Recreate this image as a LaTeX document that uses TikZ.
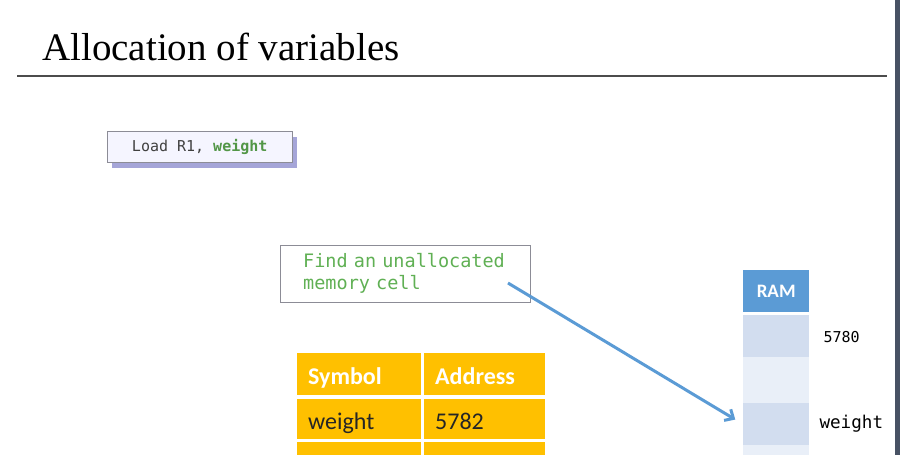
\documentclass[tikz,border=0pt]{standalone}
\usepackage{fontspec}
\setmainfont{Liberation Serif}
\newfontfamily\monofont{DejaVu Sans Mono}[WordSpace={1,0,0}]
\newfontfamily\calfont{Carlito}
\usetikzlibrary{arrows.meta, positioning, shadows}

\definecolor{tabgold}{RGB}{255,192,0}
\definecolor{ramblue}{RGB}{91,155,213}
\definecolor{celldark}{RGB}{210,221,239}
\definecolor{celllight}{RGB}{233,239,248}
\definecolor{codegreen}{RGB}{96,176,84}
\definecolor{boxgray}{RGB}{140,140,150}
\definecolor{barslate}{RGB}{72,82,100}

\begin{document}
\begin{tikzpicture}[x=1pt, y=-1pt,
    tabcell/.style={fill=tabgold, anchor=north west, minimum height=42pt, inner xsep=11pt,
        text height=21pt, text depth=0pt,
        align=left, font=\calfont\fontsize{24}{28}\selectfont, text=black!85},
    headcell/.style={tabcell, text=white, font=\calfont\bfseries\fontsize{24}{28}\selectfont},
    ramcell/.style={anchor=north west, minimum width=66pt, inner sep=0pt},
    memlabel/.style={anchor=west, font=\monofont\fontsize{15}{18}\selectfont}]
    \useasboundingbox (0,0) rectangle (900,455);
    \clip (0,0) rectangle (900,455);

    % title and rule
    \node[anchor=base west, inner sep=0pt, font=\fontsize{39}{44}\selectfont] (title) at (42,60) {Allocation of variables};
    \draw[black!70, line width=2pt] (17,76) -- (887,76);
    \fill[barslate] (895,0) rectangle (900,455);

    % instruction
    \node[draw=boxgray, fill=blue!4, anchor=north west, minimum width=185pt, minimum height=31pt,
        drop shadow={fill=blue!40!gray, opacity=0.5, shadow xshift=5pt, shadow yshift=-6pt},
        font=\monofont\fontsize{15}{18}\selectfont] (load) at (107,131)
        {\textcolor{black!75}{Load R1,} \textcolor{codegreen!85!black}{\bfseries weight}};

    \node[draw=boxgray, fill=white, anchor=north west, minimum width=250pt, minimum height=57pt,
        text width=204pt, inner xsep=23pt, align=left, text=codegreen,
        font=\monofont\fontsize{18.5}{22}\selectfont] (find) at (280,245)
        {Find an unallocated\\memory cell};

    % symbol table
    \node[headcell, text width=102pt] (symhead) at (297,353) {Symbol};
    \node[headcell, text width=99pt] (addrhead) at (424,353) {Address};
    \node[tabcell, text width=102pt, minimum height=40pt] (symw) at (297,399) {weight};
    \node[tabcell, text width=99pt, minimum height=40pt] (addrw) at (424,399) {5782};
    \node[tabcell, text width=102pt] (sym3) at (297,442) {};
    \node[tabcell, text width=99pt] (addr3) at (424,442) {};

    % RAM column
    \node[ramcell, fill=ramblue, minimum height=42pt, text=white,
        font=\calfont\bfseries\fontsize{19}{22}\selectfont] (ram) at (743,270) {RAM};
    \node[ramcell, fill=celldark, minimum height=42pt] (cell1) at (743,315) {};
    \node[ramcell, fill=celllight, minimum height=46pt] (cell2) at (743,357) {};
    \node[ramcell, fill=celldark, minimum height=42pt] (cell3) at (743,403) {};
    \node[ramcell, fill=celllight, minimum height=42pt] (cell4) at (743,445) {};
    \node[memlabel] (addr5780) at (820,337) {5780};
    \node[memlabel, font=\monofont\fontsize{17.6}{20}\selectfont] (wlabel) at (816,424) {weight};

    \coordinate (findtip) at (508,283);
    \draw[ramblue, line width=3pt, shorten >=9pt, -{Straight Barb[length=7pt, width=13pt]}]
        (findtip) -- (cell3.west);
\end{tikzpicture}
\end{document}
